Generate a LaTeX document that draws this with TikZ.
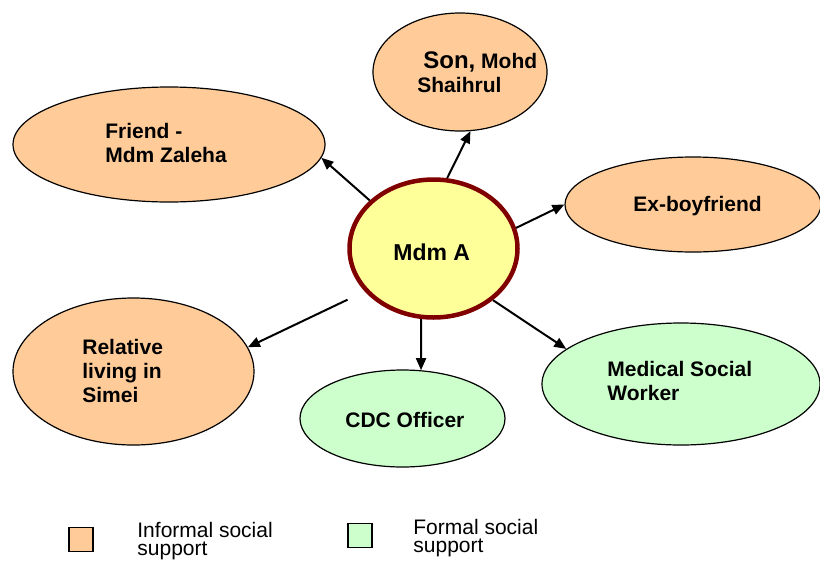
\documentclass[tikz,border=0pt]{standalone}
\usepackage{fontspec}
\setmainfont{Liberation Sans}
\usetikzlibrary{shapes.geometric,arrows.meta}
\definecolor{informal}{HTML}{FFCC99}
\definecolor{formal}{HTML}{CCFFCC}
\definecolor{client}{HTML}{FFFF99}
\definecolor{rim}{HTML}{800000}
\begin{document}
\begin{tikzpicture}[x=0.5pt,y=-0.5pt,
	bubble/.style={ellipse,draw,line width=0.6pt,inner sep=0pt},
	lbl/.style={anchor=base west,inner sep=0pt,align=left,font=\bfseries\fontsize{10.5}{12}\selectfont},
	key/.style={draw,line width=0.8pt,minimum size=12pt,inner sep=0pt},
	keytxt/.style={anchor=base west,inner sep=0pt,align=left,font=\fontsize{10.5}{9}\selectfont},
	link/.style={line width=1pt,-{Triangle[length=6pt,width=5pt]}}]
\useasboundingbox (0,0) rectangle (820,563);

% the people round Mdm A
\node[bubble,fill=informal,minimum width=156pt,minimum height=57.5pt] (friend) at (169,144.5) {};
\node[bubble,fill=informal,minimum width=87pt,minimum height=59pt] (son) at (460,72) {};
\node[bubble,fill=informal,minimum width=128pt,minimum height=47.5pt] (exbf) at (693,204.5) {};
\node[bubble,fill=informal,minimum width=120.5pt,minimum height=73.5pt] (relative) at (133.5,371.5) {};
\node[bubble,fill=formal,minimum width=102.5pt,minimum height=48.5pt] (cdc) at (402.5,418.5) {};
\node[bubble,fill=formal,minimum width=139pt,minimum height=61pt] (msw) at (681,384) {};
\node[bubble,fill=client,draw=rim,line width=2.25pt,minimum width=84pt,minimum height=69pt] (mdm) at (433.5,248.5) {};

% labels (base = last line)
\node[lbl] (friendtxt) at (105,162) {Friend -\\Mdm Zaleha};
\node[lbl] (sontxt) at (417,92) {\hspace{3pt}{\fontsize{12}{12}\selectfont Son,} Mohd\\Shaihrul};
\node[lbl] (exbftxt) at (633,211) {Ex-boyfriend};
\node[lbl] (relativetxt) at (82,402) {Relative\\living in\\Simei};
\node[lbl] (cdctxt) at (345,427) {CDC Officer};
\node[lbl] (mswtxt) at (607,400) {Medical Social\\Worker};
\node[lbl,font=\bfseries\fontsize{11.5}{12}\selectfont] (mdmtxt) at (393,260) {Mdm A};

% links
\draw[link] (mdm.143) -- (friend.-5);
\draw[link] (mdm.79.5) -- (son.-80.5);
\draw[link] (mdm.14) -- (exbf.180);
\draw[link,shorten <=9.5pt] (mdm.212) -- (relative.12);
\draw[link] (mdm.260.5) -- (cdc.69);
\draw[link] (mdm.319.5) -- (msw.163);

% key
\node[key,fill=informal] (keyinf) at (81,539.5) {};
\node[keytxt] (keyinftxt) at (137,555) {Informal social\\support};
\node[key,fill=formal] (keyfor) at (360,535.5) {};
\node[keytxt] (keyfortxt) at (413,552) {Formal social\\support};

\end{tikzpicture}
\end{document}
